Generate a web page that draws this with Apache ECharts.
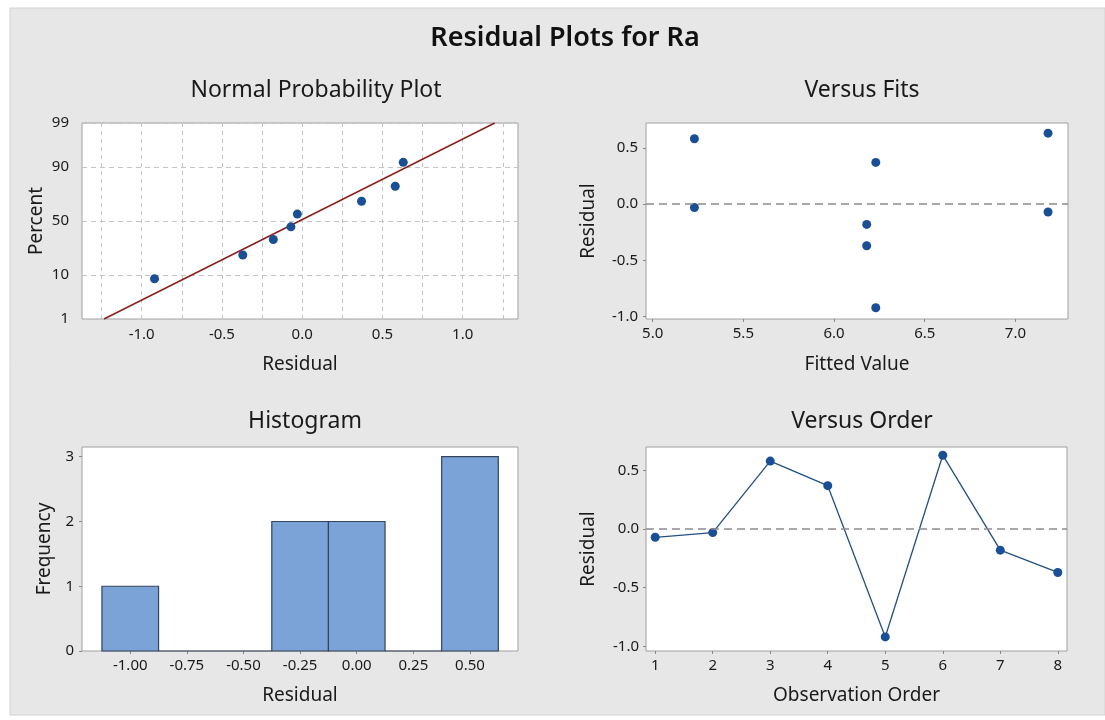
<!DOCTYPE html>
<html>
<head>
<meta charset="utf-8">
<title>Residual Plots for Ra</title>
<script src="https://cdn.jsdelivr.net/npm/echarts@6/dist/echarts.min.js"></script>
<style>
  html, body { margin: 0; padding: 0; background: #fff; }
  #chart { width: 1105px; height: 720px; }
</style>
</head>
<body>
<div id="chart"></div>
<script>
// residuals in observation order, with their fitted values
const observationOrder = [1, 2, 3, 4, 5, 6, 7, 8];
const residuals = [-0.07, -0.03, 0.58, 0.37, -0.92, 0.63, -0.18, -0.37];
const fittedValues = [7.18, 5.23, 5.23, 6.23, 6.23, 7.18, 6.18, 6.18];

// normal probability plot: sorted residuals and their plotted percents
const nppResiduals = [-0.92, -0.37, -0.18, -0.07, -0.03, 0.37, 0.58, 0.63];
const nppPercents = [8.5, 21, 33, 44.5, 56.5, 68, 79.5, 91.8];
const fitLineResiduals = [-1.235, 1.20];
const fitLinePercents = [1, 99];
const percentTicks = [1, 10, 50, 90, 99];
const nppResidualTicks = [-1.0, -0.5, 0.0, 0.5, 1.0];
const nppGridTicks = [-1.25, -1.0, -0.75, -0.5, -0.25, 0, 0.25, 0.5, 0.75, 1.0, 1.25];

// histogram
const histBins = [-1.0, -0.75, -0.5, -0.25, 0.0, 0.25, 0.5];
const histCounts = [1, 0, 0, 2, 2, 0, 3];
const histBinWidth = 0.25;
const frequencyTicks = [0, 1, 2, 3];

const fitsTicks = [5.0, 5.5, 6.0, 6.5, 7.0];
const residualTicks = [-1.0, -0.5, 0.0, 0.5];

// inverse standard normal cdf (Acklam) - used as the probability scale
function normInv(p) {
  const a = [-3.969683028665376e+01, 2.209460984245205e+02, -2.759285104469687e+02, 1.383577518672690e+02, -3.066479806614716e+01, 2.506628277459239e+00];
  const b = [-5.447609879822406e+01, 1.615858368580409e+02, -1.556989798598866e+02, 6.680131188771972e+01, -1.328068155022803e+01];
  const c = [-7.784894002430293e-03, -3.223964580411365e-01, -2.400758277161838e+00, -2.549732539343734e+00, 4.374664141464968e+00, 2.938163982698783e+00];
  const d = [7.784695709041462e-03, 3.224671290700398e-01, 2.445134137142996e+00, 3.754408661907416e+00];
  const pl = 0.02425;
  let q, r;
  if (p < pl) {
    q = Math.sqrt(-2 * Math.log(p));
    return (((((c[0] * q + c[1]) * q + c[2]) * q + c[3]) * q + c[4]) * q + c[5]) / ((((d[0] * q + d[1]) * q + d[2]) * q + d[3]) * q + 1);
  }
  if (p > 1 - pl) {
    q = Math.sqrt(-2 * Math.log(1 - p));
    return -(((((c[0] * q + c[1]) * q + c[2]) * q + c[3]) * q + c[4]) * q + c[5]) / ((((d[0] * q + d[1]) * q + d[2]) * q + d[3]) * q + 1);
  }
  q = p - 0.5;
  r = q * q;
  return (((((a[0] * r + a[1]) * r + a[2]) * r + a[3]) * r + a[4]) * r + a[5]) * q / (((((b[0] * r + b[1]) * r + b[2]) * r + b[3]) * r + b[4]) * r + 1);
}
const pz = (pct) => normInv(pct / 100);

const FONT = "'Noto Sans', 'Open Sans', sans-serif";
const LABEL_COLOR = '#1a1a1a';
const BORDER = '#a0a0a0';
const DOT = '#1a4f95';

function axisName(text, gap) {
  return {
    name: text,
    nameLocation: 'middle',
    nameGap: gap,
    nameTextStyle: { fontFamily: FONT, fontSize: 19, color: '#1a1a1a' }
  };
}
function labelStyle(extra) {
  return Object.assign({ fontFamily: FONT, fontSize: 15, color: LABEL_COLOR }, extra);
}
const tickStyle = { show: true, length: 3, lineStyle: { color: '#888' } };
const hiddenLine = { show: false, onZero: false };

const chart = echarts.init(document.getElementById('chart'), null, { renderer: 'canvas' });

const subTitle = (text, left, top) => ({
  text: text,
  left: left,
  top: top,
  textAlign: 'center',
  textStyle: { fontFamily: FONT, fontSize: 23, fontWeight: 'normal', color: '#1a1a1a' }
});

const zeroLine = {
  silent: true, symbol: 'none', label: { show: false },
  lineStyle: { color: '#8c8c8c', type: [8, 5], width: 1.5 },
  data: [{ yAxis: 0 }]
};

const option = {
  animation: false,
  backgroundColor: '#fff',
  graphic: [{
    type: 'rect',
    z: -10,
    shape: { x: 10, y: 8, width: 1095, height: 707 },
    style: { fill: '#e7e7e7', stroke: '#d2d2d2', lineWidth: 1 }
  }],
  title: [
    {
      text: 'Residual Plots for Ra',
      left: 560, top: 20, textAlign: 'center',
      textStyle: { fontFamily: FONT, fontSize: 27, fontWeight: 600, color: '#111' }
    },
    subTitle('Normal Probability Plot', 311, 74),
    subTitle('Versus Fits', 857, 74),
    subTitle('Histogram', 300, 405),
    subTitle('Versus Order', 857, 405)
  ],
  grid: [
    { left: 82, top: 123, width: 436, height: 196 },
    { left: 646, top: 123, width: 422, height: 196 },
    { left: 82, top: 447, width: 436, height: 204 },
    { left: 646, top: 447, width: 421, height: 204 }
  ].map(g => Object.assign(g, { show: true, backgroundColor: '#fff', borderColor: BORDER, borderWidth: 1, containLabel: false })),
  xAxis: [
    Object.assign({
      gridIndex: 0, type: 'value', min: -1.372, max: 1.345,
      axisLine: hiddenLine,
      axisTick: { show: false, customValues: nppGridTicks },
      axisLabel: labelStyle({ margin: 8, customValues: nppResidualTicks, formatter: v => v.toFixed(1) }),
      splitLine: { show: true, lineStyle: { color: '#c4c4c4', type: [4, 4], width: 1 } }
    }, axisName('Residual', 36)),
    Object.assign({
      gridIndex: 1, type: 'value', min: 4.963, max: 7.29,
      axisLine: hiddenLine,
      axisTick: Object.assign({ customValues: fitsTicks }, tickStyle),
      axisLabel: labelStyle({ margin: 7, customValues: fitsTicks, formatter: v => v.toFixed(1) }),
      splitLine: { show: false }
    }, axisName('Fitted Value', 36)),
    Object.assign({
      gridIndex: 2, type: 'value', min: -1.213, max: 0.712,
      axisLine: hiddenLine,
      axisTick: Object.assign({ customValues: histBins }, tickStyle),
      axisLabel: labelStyle({ margin: 7, customValues: histBins, formatter: v => v.toFixed(2) }),
      splitLine: { show: false }
    }, axisName('Residual', 35)),
    Object.assign({
      gridIndex: 3, type: 'value', min: 0.84, max: 8.16,
      axisLine: hiddenLine,
      axisTick: Object.assign({ customValues: observationOrder }, tickStyle),
      axisLabel: labelStyle({ margin: 7, customValues: observationOrder }),
      splitLine: { show: false }
    }, axisName('Observation Order', 35))
  ],
  yAxis: [
    Object.assign({
      gridIndex: 0, type: 'value', min: pz(1), max: pz(99),
      axisLine: hiddenLine,
      axisTick: { show: false, customValues: percentTicks.map(pz) },
      axisLabel: labelStyle({
        margin: 13,
        customValues: percentTicks.map(pz),
        formatter: v => {
          const p = percentTicks.find(t => Math.abs(pz(t) - v) < 1e-6);
          return p === undefined ? '' : String(p);
        }
      }),
      splitLine: { show: true, lineStyle: { color: '#c4c4c4', type: [5, 4], width: 1 } }
    }, axisName('Percent', 36)),
    Object.assign({
      gridIndex: 1, type: 'value', min: -1.02, max: 0.72,
      axisLine: hiddenLine,
      axisTick: Object.assign({ customValues: residualTicks }, tickStyle),
      axisLabel: labelStyle({ margin: 8, customValues: residualTicks, formatter: v => v.toFixed(1) }),
      splitLine: { show: false }
    }, axisName('Residual', 48)),
    Object.assign({
      gridIndex: 2, type: 'value', min: 0, max: 3.15,
      axisLine: hiddenLine,
      axisTick: Object.assign({ customValues: frequencyTicks }, tickStyle),
      axisLabel: labelStyle({ margin: 8, customValues: frequencyTicks }),
      splitLine: { show: false }
    }, axisName('Frequency', 28)),
    Object.assign({
      gridIndex: 3, type: 'value', min: -1.04, max: 0.70,
      axisLine: hiddenLine,
      axisTick: Object.assign({ customValues: residualTicks }, tickStyle),
      axisLabel: labelStyle({ margin: 7, customValues: residualTicks, formatter: v => v.toFixed(1) }),
      splitLine: { show: false }
    }, axisName('Residual', 48))
  ],
  series: [
    {
      name: 'Fit',
      type: 'line',
      xAxisIndex: 0, yAxisIndex: 0,
      data: fitLineResiduals.map((x, i) => [x, pz(fitLinePercents[i])]),
      symbol: 'none',
      lineStyle: { color: '#8b1c1c', width: 1.4 },
      z: 3
    },
    {
      name: 'NPP',
      type: 'scatter',
      xAxisIndex: 0, yAxisIndex: 0,
      data: nppResiduals.map((x, i) => [x, pz(nppPercents[i])]),
      symbolSize: 9,
      itemStyle: { color: DOT, opacity: 1 },
      z: 4
    },
    {
      name: 'Versus Fits',
      type: 'scatter',
      xAxisIndex: 1, yAxisIndex: 1,
      data: fittedValues.map((f, i) => [f, residuals[i]]),
      symbolSize: 9,
      itemStyle: { color: DOT, opacity: 1 },
      markLine: zeroLine,
      z: 4
    },
    {
      name: 'Histogram',
      type: 'custom',
      xAxisIndex: 2, yAxisIndex: 2,
      data: histBins.map((b, i) => [b, histCounts[i]]),
      renderItem: function (params, api) {
        const x = api.value(0);
        const y = api.value(1);
        const p0 = api.coord([x - histBinWidth / 2, y]);
        const p1 = api.coord([x + histBinWidth / 2, 0]);
        return {
          type: 'rect',
          shape: { x: p0[0], y: p0[1], width: p1[0] - p0[0], height: p1[1] - p0[1] },
          style: { fill: '#7ba3d8', stroke: '#34435a', lineWidth: 1.2 }
        };
      }
    },
    {
      name: 'Versus Order',
      type: 'line',
      xAxisIndex: 3, yAxisIndex: 3,
      data: observationOrder.map((o, i) => [o, residuals[i]]),
      symbol: 'circle',
      symbolSize: 9,
      showAllSymbol: true,
      itemStyle: { color: DOT, opacity: 1 },
      lineStyle: { color: '#23507f', width: 1.3 },
      markLine: zeroLine,
      z: 4
    }
  ]
};

chart.setOption(option);
</script>
</body>
</html>
